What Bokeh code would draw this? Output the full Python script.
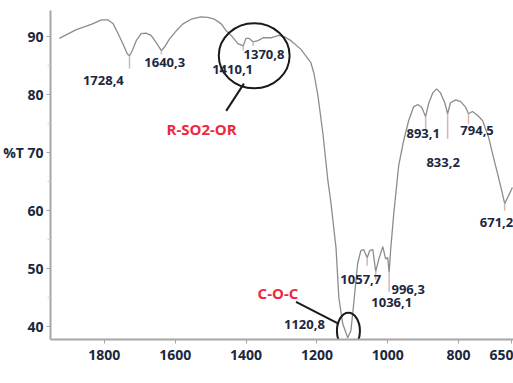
from bokeh.plotting import figure
from bokeh.models import Range1d, FixedTicker, Label
from bokeh.core.properties import value
from bokeh.embed import file_html
from bokeh.resources import INLINE

# IR spectrum (wavenumber cm-1, %T)
wavenumber = [1927, 1879, 1837, 1808, 1790, 1775, 1761, 1747, 1735, 1729, 1721, 1710, 1696, 1682,
              1668, 1654, 1639, 1630, 1616, 1597, 1578, 1555, 1527, 1508, 1489, 1470, 1456, 1442,
              1423, 1408, 1400, 1392, 1380, 1366, 1352, 1330, 1307, 1293, 1273, 1245, 1217, 1208,
              1197, 1183, 1169, 1161, 1146, 1138, 1127, 1113, 1104, 1096, 1085, 1076, 1068, 1058,
              1051, 1042, 1034, 1025, 1014, 1006, 1000, 996, 992, 983, 969, 955, 941, 927, 915,
              904, 893, 885, 873, 862, 851, 839, 831, 823, 808, 794, 780, 772, 761, 746, 732, 724,
              715, 704, 690, 676, 670, 659, 648]
transmittance = [89.7, 91.2, 92.1, 92.9, 92.9, 92.2, 90.5, 88.7, 87.0, 86.7, 87.6, 89.3, 90.5, 90.6,
                 90.2, 89.0, 87.6, 88.2, 89.6, 91.0, 92.2, 93.0, 93.4, 93.3, 93.0, 92.2, 91.0, 90.2,
                 88.8, 88.4, 89.7, 89.7, 89.1, 89.3, 89.8, 89.8, 90.2, 90.0, 89.3, 87.8, 85.5, 83.6,
                 79.8, 73.3, 65.2, 61.7, 53.6, 45.0, 40.5, 38.1, 39.3, 44.0, 50.9, 53.1, 53.3, 51.9,
                 53.1, 53.3, 49.5, 51.7, 53.8, 51.7, 51.9, 49.3, 53.1, 59.5, 67.8, 72.1, 75.5, 77.9,
                 78.3, 77.8, 76.2, 78.4, 80.3, 81.0, 80.3, 78.6, 76.7, 78.6, 79.1, 78.8, 77.8, 76.7,
                 77.1, 76.4, 75.5, 74.1, 72.6, 69.8, 66.4, 62.9, 61.2, 62.6, 64.0]

# peak markers (small pink ticks below the absorption minima)
marker_wn = [1729, 1639, 1408, 1380, 1058, 1034, 996, 893, 831, 772, 670]
marker_top = [86.7, 87.6, 88.4, 89.1, 51.9, 49.5, 49.3, 76.2, 76.7, 76.7, 61.2]
marker_bottom = [84.5, 86.9, 87.6, 88.4, 50.5, 48.1, 46.0, 74.0, 72.4, 75.0, 60.0]

# peak labels
peak_labels = ["1728,4", "1640,3", "1410,1", "1370,8", "1120,8", "1057,7",
               "1036,1", "996,3", "893,1", "833,2", "794,5", "671,2"]
label_x = [1802.8, 1629.6, 1438.0, 1349.3, 1235.2, 1076.1, 988.7, 942.3, 900.0, 843.7, 747.9, 692.9]
label_y = [82.4, 85.5, 84.3, 86.9, 40.3, 48.1, 44.1, 46.4, 73.3, 68.3, 73.8, 57.9]

group_labels = ["R-SO2-OR", "C-O-C"]
group_x = [1525.4, 1309.9]
group_y = [74.1, 45.9]

x_ticks = [1800, 1600, 1400, 1200, 1000, 800, 650]
y_ticks = [40, 50, 60, 70, 80, 90]
y_minor = [45, 55, 65, 75, 85]

p = figure(width=513, height=383, output_backend="svg", toolbar_location=None,
           x_range=Range1d(1952, 645), y_range=Range1d(37.8, 94.5),
           min_border_left=49, min_border_right=0, min_border_top=10, min_border_bottom=44)
p.outline_line_color = None
p.grid.visible = False
p.background_fill_color = "white"
p.border_fill_color = "white"

p.line(wavenumber, transmittance, line_color="#8c8c8c", line_width=1.3)
p.segment(x0=marker_wn, y0=marker_top, x1=marker_wn, y1=marker_bottom,
          line_color="#d8b4b4", line_width=1.5)

# circles and leader lines
p.ellipse(x=[1377, 1111], y=[86.7, 39.3], width=[200, 65], height=[11.2, 6.2],
          fill_color=None, line_color="#1a1a1a", line_width=2)
p.segment(x0=[1406, 1259], y0=[81.9, 44.3], x1=[1456, 1138], y1=[77.2, 40.5],
          line_color="#1a1a1a", line_width=2)

p.text(x=label_x, y=label_y, text=peak_labels, text_align="center", text_baseline="middle",
       text_font=value("Open Sans"), text_font_size="13px", text_font_style="bold",
       text_color="#1c2740")
p.text(x=group_x, y=group_y, text=group_labels, text_align="center", text_baseline="middle",
       text_font=value("Open Sans"), text_font_size="15px", text_font_style="bold",
       text_color="#f0263c")

for ax in (p.xaxis[0], p.yaxis[0]):
    ax.axis_line_color = "#a6a6a6"
    ax.axis_line_width = 2
    ax.major_tick_line_color = "#a6a6a6"
    ax.minor_tick_line_color = "#d0d0d0"
    ax.major_tick_out = 4
    ax.major_tick_in = 0
    ax.minor_tick_out = 3
    ax.minor_tick_in = 0
    ax.major_label_text_font = "Open Sans"
    ax.major_label_text_font_style = "bold"
    ax.major_label_text_font_size = "14px"
    ax.major_label_text_color = "#1c2740"

p.xaxis.ticker = FixedTicker(ticks=x_ticks, minor_ticks=[])
p.yaxis.ticker = FixedTicker(ticks=y_ticks, minor_ticks=y_minor)
p.yaxis.major_label_overrides = {70: "%T 70"}
p.xaxis.major_label_standoff = 6
p.yaxis.major_label_standoff = 3

p.add_layout(Label(x=1355, y=32.1, text="cm-1", text_align="center", text_baseline="middle",
                   text_font="Open Sans", text_font_size="15px", text_font_style="bold",
                   text_color="#1c2740"))

open("out.html", "w").write(file_html(p, INLINE))
